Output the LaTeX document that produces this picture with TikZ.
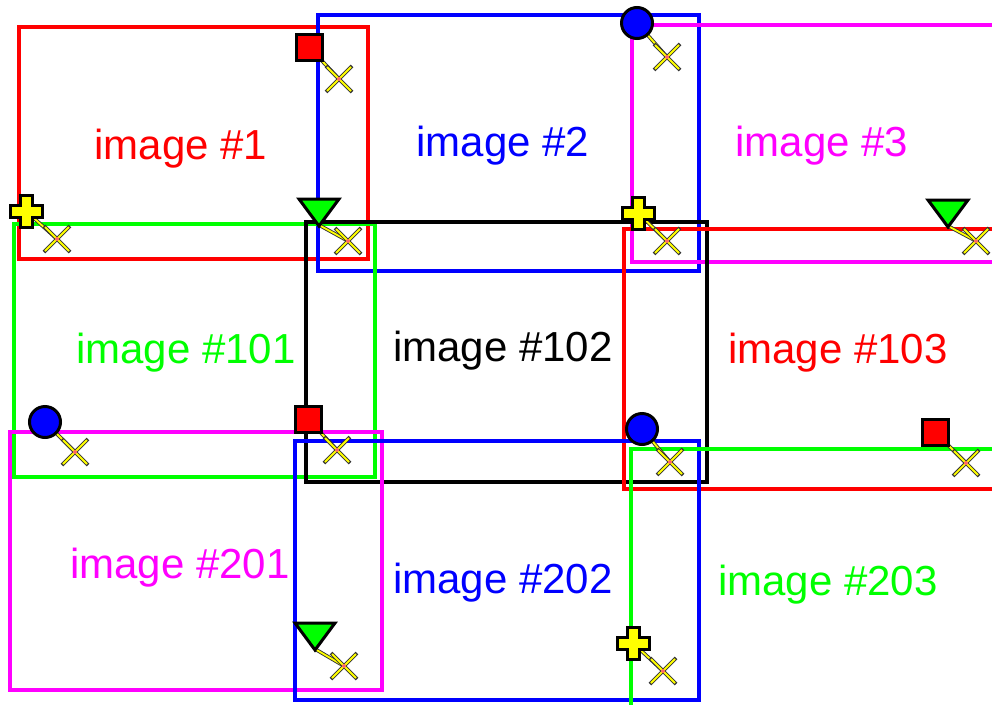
\documentclass[tikz,border=0pt]{standalone}
\usepackage{fontspec}
\setmainfont{Liberation Sans}
\definecolor{cred}{RGB}{255,0,0}
\definecolor{cblue}{RGB}{0,0,255}
\definecolor{cmag}{RGB}{255,0,255}
\definecolor{cgreen}{RGB}{0,255,0}
\definecolor{cyel}{RGB}{255,255,0}
\tikzset{
  frame/.style={line width=3.4pt},
  lbl/.style={font=\fontsize{42}{46}\selectfont, inner sep=0pt},
  linkdark/.style={line width=3.6pt, draw=black!80},
  linklight/.style={line width=1.8pt, draw=cyel},
  mk/.style={line width=3pt, draw=black, line join=miter},
}
\newcommand{\crossmark}[1]{%
  \draw[linkdark] ($(#1)+(-13,-13)$) -- ($(#1)+(13,13)$);
  \draw[linkdark] ($(#1)+(-13,13)$) -- ($(#1)+(13,-13)$);
  \draw[linklight] ($(#1)+(-12,-12)$) -- ($(#1)+(12,12)$);
  \draw[linklight] ($(#1)+(-12,12)$) -- ($(#1)+(12,-12)$);
  \fill[red!60!white] (#1) circle (2);
}
\newcommand{\sqmark}[1]{%
  \filldraw[mk, fill=cred] ($(#1)+(-13,-13)$) rectangle ($(#1)+(13,13)$);
}
\newcommand{\circmark}[1]{%
  \filldraw[mk, fill=cblue] (#1) circle (15.5);
}
\newcommand{\plusmark}[1]{%
  \filldraw[mk, fill=cyel, shift={(#1)}] (-6,-16) -- (6,-16) -- (6,-6) -- (16,-6) -- (16,6) -- (6,6) -- (6,16) -- (-6,16) -- (-6,6) -- (-16,6) -- (-16,-6) -- (-6,-6) -- cycle;
}
\newcommand{\trimark}[1]{%
  \filldraw[mk, fill=cgreen, shift={(#1)}] (-20,0) -- (20,0) -- (0,27) -- cycle;
}
\usetikzlibrary{calc}
\begin{document}
\begin{tikzpicture}[x=1pt, y=-1pt]
\useasboundingbox (0,0) rectangle (992,704);
\fill[white] (0,0) rectangle (992,704);
\clip (0,0) rectangle (992,704);
% frames
\draw[frame, cred]   (19,27) rectangle (368,259);
\draw[frame, cblue]  (318,15) rectangle (699,271);
\draw[frame, cmag]   (632,25) rectangle (1010,262);
\draw[frame, cgreen] (14,224) rectangle (375,477);
\draw[frame, black]  (306,222) rectangle (707,482);
\draw[frame, cred]   (624,229) rectangle (1010,489);
\draw[frame, cmag]   (10,432) rectangle (382,690);
\draw[frame, cblue]  (295,441) rectangle (699,700);
\draw[frame, cgreen] (631,449) rectangle (1010,720);
% labels
\node[lbl, text=cred]   (t1)   at (181,149) {image \#1};
\node[lbl, text=cblue]  (t2)   at (503,146) {image \#2};
\node[lbl, text=cmag]   (t3)   at (822,146) {image \#3};
\node[lbl, text=cgreen] (t101) at (186,353) {image \#101};
\node[lbl, text=black]  (t102) at (503,351) {image \#102};
\node[lbl, text=cred]   (t103) at (838,353) {image \#103};
\node[lbl, text=cmag]   (t201) at (180,568) {image \#201};
\node[lbl, text=cblue]  (t202) at (503,583) {image \#202};
\node[lbl, text=cgreen] (t203) at (828,585) {image \#203};
% marker anchors
\coordinate (m1) at (309,47);   \coordinate (x1) at (339,79);
\coordinate (m2) at (637,23);   \coordinate (x2) at (667,57);
\coordinate (m3) at (26,211);   \coordinate (x3) at (57,239);
\coordinate (m4) at (319,199);  \coordinate (x4) at (348,241);
\coordinate (m5) at (638,213);  \coordinate (x5) at (667,241);
\coordinate (m6) at (948,200);  \coordinate (x6) at (976,241);
\coordinate (m7) at (45,422);   \coordinate (x7) at (75,452);
\coordinate (m8) at (308,419);  \coordinate (x8) at (337,450);
\coordinate (m9) at (642,429);  \coordinate (x9) at (670,462);
\coordinate (m10) at (935,432); \coordinate (x10) at (966,463);
\coordinate (m11) at (315,623); \coordinate (x11) at (344,666);
\coordinate (m12) at (633,643); \coordinate (x12) at (663,671);
% connectors
\foreach \i in {1,2,3,5,7,8,9,10,12}{
  \draw[linkdark] (m\i) -- (x\i);
  \draw[linklight] (m\i) -- (x\i);
}
\foreach \i in {4,6,11}{
  \draw[linkdark] ($(m\i)+(0,26)$) -- (x\i);
  \draw[linklight] ($(m\i)+(0,26)$) -- (x\i);
}
\foreach \i in {1,...,12}{ \crossmark{x\i} }
% markers
\sqmark{m1} \sqmark{m8} \sqmark{m10}
\circmark{m2} \circmark{m7} \circmark{m9}
\plusmark{m3} \plusmark{m5} \plusmark{m12}
\trimark{m4} \trimark{m6} \trimark{m11}
\end{tikzpicture}
\end{document}
